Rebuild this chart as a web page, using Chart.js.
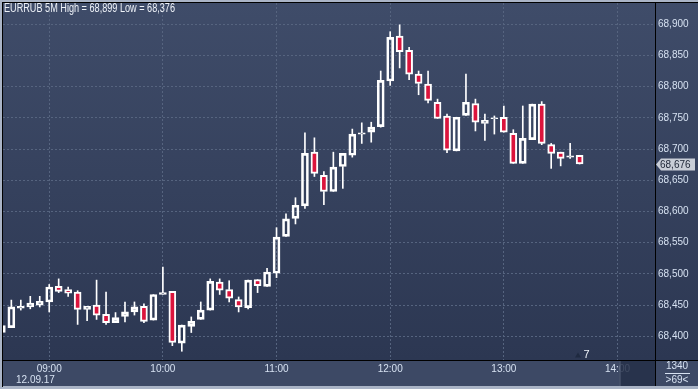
<!DOCTYPE html>
<html>
<head>
<meta charset="utf-8">
<script src="https://cdn.jsdelivr.net/npm/chart.js@4.4.0/dist/chart.umd.min.js"></script>
<style>
  html, body { margin: 0; padding: 0; overflow: hidden; background: #aab4c6; }
  canvas { display: block; }
</style>
</head>
<body>
<canvas id="chart" width="698" height="389"></canvas>
<script>
/* ===== data (EURRUB, 5 minute candles, 12.09.17) ===== */
const times = [
  "08:35", "08:40", "08:45", "08:50", "08:55", "09:00", "09:05", "09:10", "09:15", "09:20",
  "09:25", "09:30", "09:35", "09:40", "09:45", "09:50", "09:55", "10:00", "10:05", "10:10",
  "10:15", "10:20", "10:25", "10:30", "10:35", "10:40", "10:45", "10:50", "10:55", "11:00",
  "11:05", "11:10", "11:15", "11:20", "11:25", "11:30", "11:35", "11:40", "11:45", "11:50",
  "11:55", "12:00", "12:05", "12:10", "12:15", "12:20", "12:25", "12:30", "12:35", "12:40",
  "12:45", "12:50", "12:55", "13:00", "13:05", "13:10", "13:15", "13:20", "13:25", "13:30",
  "13:35", "13:40",
];
const opens = [
  68.406, 68.414, 68.445, 68.447, 68.450, 68.455, 68.480, 68.475, 68.471, 68.443,
  68.450, 68.435, 68.422, 68.432, 68.439, 68.448, 68.426, 68.467, 68.472, 68.389,
  68.416, 68.427, 68.442, 68.487, 68.475, 68.459, 68.446, 68.491, 68.480, 68.501,
  68.560, 68.589, 68.609, 68.695, 68.658, 68.632, 68.672, 68.690, 68.724, 68.727,
  68.736, 68.809, 68.881, 68.858, 68.820, 68.804, 68.775, 68.753, 68.697, 68.754,
  68.773, 68.741, 68.7485, 68.751, 68.725, 68.677, 68.715, 68.772, 68.707, 68.695,
  68.687, 68.690,
];
const highs = [
  68.417, 68.458, 68.458, 68.464, 68.464, 68.483, 68.492, 68.479, 68.473, 68.448,
  68.490, 68.471, 68.438, 68.455, 68.455, 68.452, 68.467, 68.511, 68.472, 68.418,
  68.431, 68.455, 68.492, 68.492, 68.489, 68.463, 68.490, 68.491, 68.509, 68.574,
  68.596, 68.622, 68.726, 68.718, 68.664, 68.695, 68.693, 68.732, 68.742, 68.743,
  68.825, 68.888, 68.899, 68.863, 68.825, 68.825, 68.780, 68.756, 68.751, 68.820,
  68.780, 68.756, 68.753, 68.769, 68.731, 68.769, 68.772, 68.776, 68.709, 68.695,
  68.709, 68.690,
];
const lows = [
  68.406, 68.414, 68.442, 68.444, 68.447, 68.439, 68.470, 68.464, 68.419, 68.425,
  68.427, 68.419, 68.422, 68.423, 68.434, 68.422, 68.426, 68.467, 68.385, 68.376,
  68.406, 68.427, 68.442, 68.467, 68.455, 68.439, 68.444, 68.470, 68.480, 68.494,
  68.560, 68.580, 68.605, 68.656, 68.611, 68.632, 68.637, 68.687, 68.709, 68.711,
  68.735, 68.802, 68.830, 68.811, 68.787, 68.774, 68.749, 68.694, 68.697, 68.754,
  68.729, 68.714, 68.724, 68.727, 68.677, 68.677, 68.715, 68.707, 68.669, 68.673,
  68.685, 68.676,
];
const closes = [
  68.417, 68.447, 68.448, 68.453, 68.456, 68.479, 68.472, 68.469, 68.443, 68.448,
  68.434, 68.422, 68.430, 68.439, 68.447, 68.424, 68.467, 68.470, 68.390, 68.418,
  68.424, 68.442, 68.488, 68.474, 68.461, 68.447, 68.490, 68.481, 68.503, 68.559,
  68.588, 68.610, 68.693, 68.661, 68.632, 68.671, 68.693, 68.724, 68.726, 68.735,
  68.810, 68.879, 68.856, 68.820, 68.805, 68.778, 68.749, 68.698, 68.751, 68.775,
  68.743, 68.746, 68.750, 68.727, 68.677, 68.717, 68.772, 68.709, 68.693, 68.685,
  68.689, 68.676,
];
const hourLabels = ["09:00", "10:00", "11:00", "12:00", "13:00", "14:00"];
const priceTicks = [68.40, 68.45, 68.50, 68.55, 68.60, 68.65, 68.70, 68.75, 68.80, 68.85, 68.90];
const titleText = "EURRUB 5M High = 68,899 Low = 68,376";
const dateText = "12.09.17";

/* ===== helpers ===== */
const FONT = "'Liberation Sans', Arial, sans-serif";
const TEXT = "#d6e1f1";
const RED = "#dc143c";

function toMin(s) {
  const [h, m] = s.split(":").map(Number);
  return h * 60 + m - 540; // minutes from 09:00
}
function fmtPrice(v) {
  return Number(v).toFixed(3).replace(".", ",");
}
function fmtTime(v) {
  const t = v + 540;
  return String(Math.floor(t / 60)).padStart(2, "0") + ":" + String(t % 60).padStart(2, "0");
}

const xs = times.map(toMin);
const bodies = xs.map((x, i) => ({ x, y: [opens[i], closes[i]] }));
const upWicks = xs.map((x, i) => ({ x, y: [Math.max(opens[i], closes[i]), highs[i]] }));
const loWicks = xs.map((x, i) => ({ x, y: [lows[i], Math.min(opens[i], closes[i])] }));
const bodyFill = xs.map((x, i) => (closes[i] < opens[i] ? RED : "rgba(0,0,0,0)"));

/* ===== plugins ===== */
const backdrop = {
  id: "backdrop",
  beforeDraw(chart) {
    const { ctx, chartArea: a, width, height } = chart;
    ctx.save();
    ctx.fillStyle = "#aab4c6";
    ctx.fillRect(0, 0, width, height);
    ctx.fillStyle = "#3d4965";
    ctx.fillRect(3, 3, width - 3, height - 6);
    const g = ctx.createLinearGradient(0, a.top, 0, a.bottom);
    g.addColorStop(0, "#3f4c69");
    g.addColorStop(1, "#2c3752");
    ctx.fillStyle = g;
    ctx.fillRect(3, a.top, width - 3, a.bottom - a.top);
    ctx.restore();
  },
};

const overlay = {
  id: "overlay",
  afterDraw(chart) {
    const { ctx, chartArea: a, width, height } = chart;
    const yS = chart.scales.y;
    const xS = chart.scales.x;
    ctx.save();

    // 14:00 label shade
    const x14 = xS.getPixelForValue(300);
    ctx.fillStyle = "rgba(36,47,72,0.85)";
    ctx.fillRect(x14 + 2, a.bottom, a.right - x14 - 2, height - 3 - a.bottom);
    ctx.fillStyle = "#56627a";
    ctx.fillRect(x14 + 2, a.bottom, 1, height - 3 - a.bottom);

    // frame lines
    ctx.fillStyle = "#000";
    ctx.fillRect(2, 2, width - 2, 1);
    ctx.fillRect(2, 2, 1, height - 4);
    ctx.fillRect(a.right, 3, 1, height - 6);
    ctx.fillRect(3, a.bottom, width - 3, 1);

    // title
    ctx.fillStyle = "#eef2f8";
    ctx.font = "12px " + FONT;
    ctx.textBaseline = "middle";
    ctx.textAlign = "left";
    ctx.fillText(titleText, 4, 8.5, 171);

    // date under the first hour label
    ctx.fillStyle = TEXT;
    ctx.font = "10px " + FONT;
    ctx.fillText(dateText, 16, 380);

    // last price tag
    const last = closes[closes.length - 1];
    const yc = Math.round(yS.getPixelForValue(last)) + 0.5;
    ctx.beginPath();
    ctx.moveTo(a.right + 1, yc);
    ctx.lineTo(a.right + 6, yc - 6);
    ctx.lineTo(a.right + 40, yc - 6);
    ctx.lineTo(a.right + 40, yc + 6);
    ctx.lineTo(a.right + 6, yc + 6);
    ctx.closePath();
    ctx.fillStyle = "#c9ced7";
    ctx.fill();
    ctx.fillStyle = "#1c2434";
    ctx.fillText(fmtPrice(last), a.right + 5, yc + 0.5);

    // small marker near the bottom
    ctx.beginPath();
    ctx.moveTo(575, 357.5);
    ctx.lineTo(578, 352.5);
    ctx.lineTo(581, 357.5);
    ctx.closePath();
    ctx.fillStyle = "#1f2a40";
    ctx.fill();
    ctx.fillStyle = "#eef2f8";
    ctx.font = "11px " + FONT;
    ctx.fillText("7", 583.5, 354.5);

    // corner box
    ctx.fillStyle = TEXT;
    ctx.font = "10px " + FONT;
    ctx.textAlign = "center";
    ctx.fillText("1340", 677, 366);
    ctx.fillText(">69<", 677, 380.5);
    ctx.fillRect(665, 373, 25, 1);

    ctx.restore();
  },
};

/* ===== chart ===== */
new Chart(document.getElementById("chart"), {
  type: "bar",
  data: {
    datasets: [
      { data: upWicks, backgroundColor: "#ffffff", barThickness: 1, grouped: false, order: 2 },
      { data: loWicks, backgroundColor: "#ffffff", barThickness: 1, grouped: false, order: 2 },
      {
        data: bodies,
        backgroundColor: bodyFill,
        borderColor: "#ffffff",
        borderWidth: 2,
        borderSkipped: false,
        barThickness: 7,
        grouped: false,
        order: 1,
      },
    ],
  },
  options: {
    responsive: false,
    animation: false,
    events: [],
    layout: { padding: { left: 3, top: 3, right: 0, bottom: 3 } },
    plugins: { legend: { display: false }, tooltip: { enabled: false } },
    scales: {
      x: {
        type: "linear",
        min: -24.4,
        max: 319.8,
        offset: false,
        afterBuildTicks(s) { s.ticks = hourLabels.map(l => ({ value: toMin(l) })); },
        afterFit(s) { s.height = 26; s.paddingLeft = 0; s.paddingRight = 0; },
        grid: { color: "#56647f", drawTicks: false, offset: false },
        border: { display: false, dash: [2, 2] },
        ticks: {
          color: TEXT,
          font: { family: FONT, size: 10 },
          padding: 3,
          maxRotation: 0,
          callback: v => fmtTime(v),
        },
      },
      y: {
        position: "right",
        min: 68.362,
        max: 68.934,
        afterBuildTicks(s) { s.ticks = priceTicks.map(v => ({ value: v })); },
        afterFit(s) { s.width = 43; s.paddingTop = 0; s.paddingBottom = 0; },
        grid: { color: "#56647f", drawTicks: false },
        border: { display: false, dash: [2, 2] },
        ticks: {
          color: TEXT,
          font: { family: FONT, size: 10 },
          padding: 3,
          callback: v => fmtPrice(v),
        },
      },
    },
  },
  plugins: [backdrop, overlay],
});
</script>
</body>
</html>
